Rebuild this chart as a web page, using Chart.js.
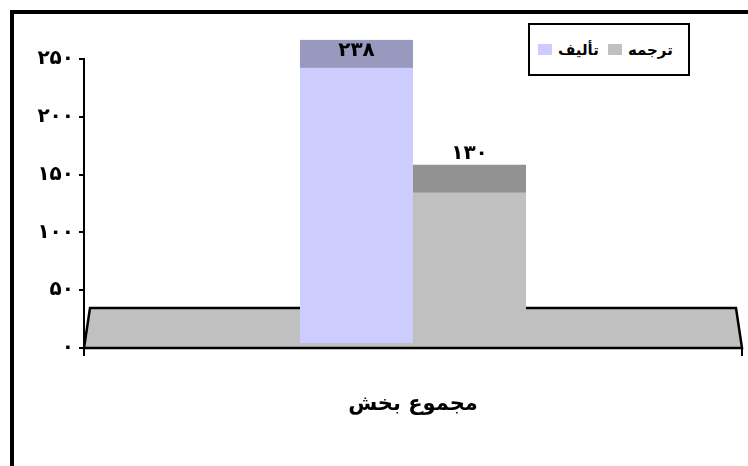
<!DOCTYPE html>
<html>
<head>
<meta charset="utf-8">
<script src="https://cdn.jsdelivr.net/npm/chart.js@4.4.1/dist/chart.umd.min.js"></script>
<style>
  body { margin: 0; background: #fff; }
  #wrap { position: relative; width: 748px; height: 466px; overflow: hidden; }
  #legend {
    position: absolute; left: 528px; top: 23px; width: 150px; height: 49px;
    border: 2px solid #000; background: #fff; direction: ltr;
    display: flex; align-items: center; justify-content: flex-start; padding-left: 8px;
    box-sizing: content-box; font: bold 15px "DejaVu Sans", sans-serif; color: #000;
  }
  #legend .item { display: flex; align-items: center; margin-right: 9px; }
  #legend .sw { width: 14px; height: 11px; margin-right: 6px; }
</style>
</head>
<body>
<div id="wrap">
  <canvas id="chart" width="748" height="466"></canvas>
  <div id="legend"></div>
</div>
<script>
// داده‌های نمودار
const categories = ["مجموع بخش"];
const seriesNames = ["تألیف", "ترجمه"];
const seriesValues = [[238], [130]];
const valueLabels = [["۲۳۸"], ["۱۳۰"]];
const yTickLabels = ["۰", "۵۰", "۱۰۰", "۱۵۰", "۲۰۰", "۲۵۰"];

const frontColors = ["#CCCCFF", "#C0C0C0"];
const topColors = ["#9999C0", "#929292"];
const faFont = '"DejaVu Sans", sans-serif';

// کف سه‌بعدی، قاب و سطح بالای ستون‌ها
const chart3d = {
  id: "chart3d",
  beforeDraw(chart) {
    const ctx = chart.ctx;
    ctx.save();
    ctx.strokeStyle = "#000";
    ctx.lineWidth = 4;
    ctx.strokeRect(12, 12, 900, 900);
    ctx.restore();
  },
  beforeDatasetsDraw(chart) {
    const ctx = chart.ctx;
    const a = chart.chartArea;
    const backY = a.bottom - 40;
    ctx.save();
    ctx.beginPath();
    ctx.moveTo(a.left, a.bottom);
    ctx.lineTo(a.left + 6, backY);
    ctx.lineTo(a.right - 6, backY);
    ctx.lineTo(a.right, a.bottom);
    ctx.closePath();
    ctx.fillStyle = "#C0C0C0";
    ctx.fill();
    ctx.strokeStyle = "#000";
    ctx.lineWidth = 2.5;
    ctx.stroke();
    ctx.restore();
  },
  afterDatasetsDraw(chart) {
    const ctx = chart.ctx;
    const depth = 28;
    ctx.save();
    chart.data.datasets.forEach((ds, i) => {
      chart.getDatasetMeta(i).data.forEach((bar, j) => {
        const left = bar.x - bar.width / 2;
        ctx.fillStyle = topColors[i];
        ctx.fillRect(left, bar.y - depth, bar.width, depth);
        ctx.fillStyle = "#000";
        ctx.font = "bold 20px " + faFont;
        ctx.textAlign = "center";
        ctx.textBaseline = "alphabetic";
        const base = Math.max(bar.y - depth - 6, chart.chartArea.top - 3);
        ctx.fillText(valueLabels[i][j], bar.x, base);
      });
    });
    ctx.restore();
  }
};

const datasets = seriesNames.map((name, i) => ({
  label: name,
  data: seriesValues[i],
  backgroundColor: frontColors[i],
  borderWidth: 0,
  yAxisID: "y2",
  barPercentage: 1,
  categoryPercentage: 0.3435
}));

new Chart(document.getElementById("chart").getContext("2d"), {
  type: "bar",
  data: { labels: categories, datasets: datasets },
  options: {
    responsive: false,
    animation: false,
    layout: { padding: { left: 0, right: 6, top: 59, bottom: 0 } },
    plugins: { legend: { display: false }, tooltip: { enabled: false } },
    scales: {
      x: {
        grid: { offset: true, drawOnChartArea: false, tickLength: 8, color: "#000", lineWidth: 2 },
        border: { color: "#000", width: 2 },
        ticks: { padding: 36, color: "#000", font: { family: faFont, size: 21, weight: "bold" } },
        afterFit: (scale) => { scale.height = 118; }
      },
      y: {
        min: 0,
        max: 250,
        ticks: {
          stepSize: 50,
          padding: 5,
          color: "#000",
          font: { family: faFont, size: 20, weight: "bold" },
          callback: (v, i) => yTickLabels[i]
        },
        grid: { drawOnChartArea: false, tickLength: 5, color: "#000", lineWidth: 2 },
        border: { color: "#000", width: 2 },
        afterFit: (scale) => { scale.width = 84; }
      },
      // محور پنهان برای جابه‌جایی ستون‌ها روی کف سه‌بعدی
      y2: { display: false, min: -4.3, max: 245.7 }
    }
  },
  plugins: [chart3d]
});

// راهنما
const legend = document.getElementById("legend");
seriesNames.forEach((name, i) => {
  const item = document.createElement("div");
  item.className = "item";
  item.innerHTML = '<span class="sw" style="background:' + frontColors[i] + '"></span><span>' + name + "</span>";
  legend.appendChild(item);
});
</script>
</body>
</html>
